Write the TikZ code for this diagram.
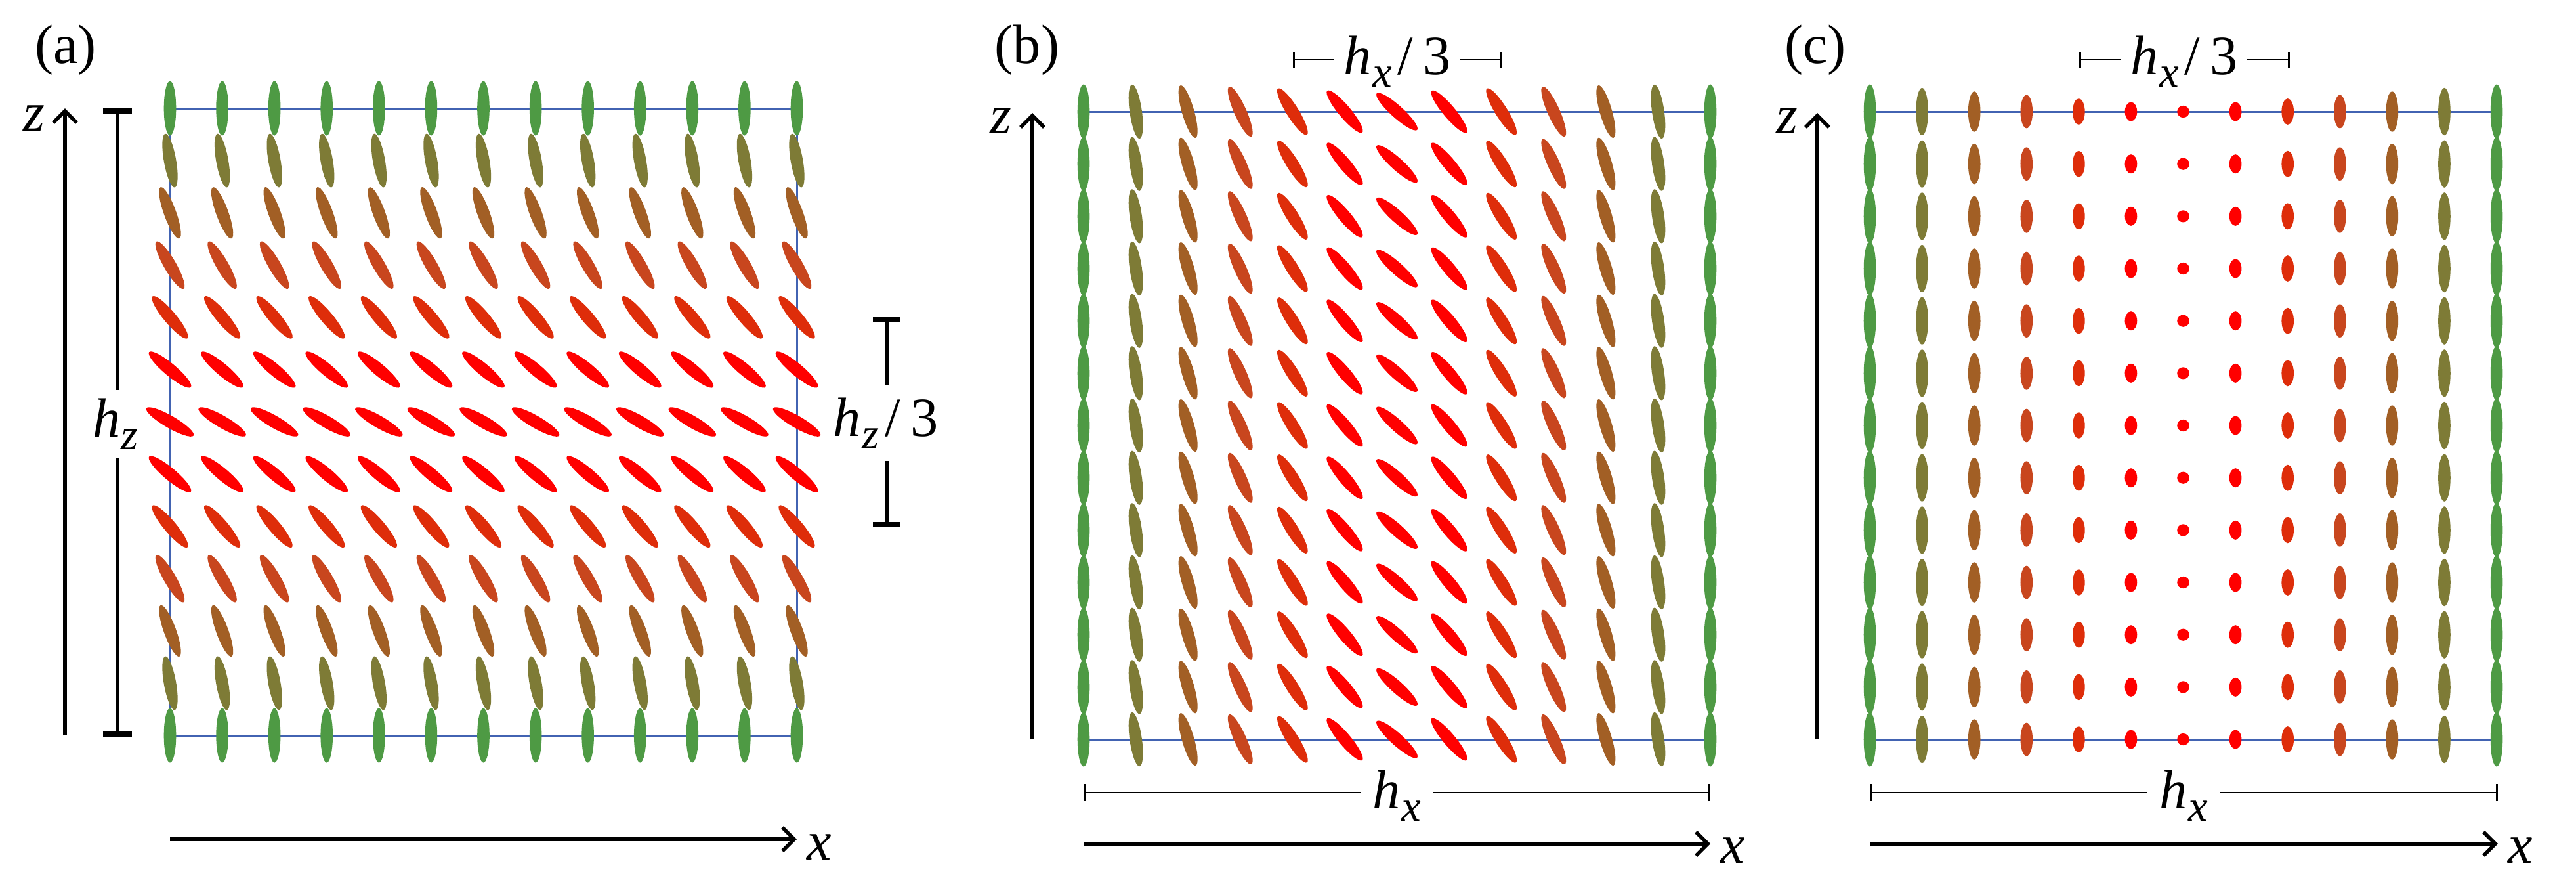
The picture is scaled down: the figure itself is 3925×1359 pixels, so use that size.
\documentclass[tikz,border=0pt]{standalone}
\usepackage{fontspec}
\setmainfont{Liberation Serif}
\usetikzlibrary{arrows.meta}
\definecolor{col0}{RGB}{78,154,68}
\definecolor{col1}{RGB}{126,123,54}
\definecolor{col2}{RGB}{162,95,37}
\definecolor{col3}{RGB}{200,70,30}
\definecolor{col4}{RGB}{222,45,10}
\definecolor{col5}{RGB}{255,0,0}
\definecolor{col6}{RGB}{255,0,0}
\definecolor{frameblue}{RGB}{66,99,178}
\newcommand{\hlab}[1]{\textit{h}\kern0.5pt\raisebox{-5.5pt}{\fontsize{19}{20}\selectfont\textit{#1}}}
\newcommand{\hthird}[1]{\hlab{#1}\hspace{2.5pt}/\hspace{4.5pt}3}
\begin{document}
\begin{tikzpicture}[x=0.01cm,y=-0.01cm,
  axis/.style={line width=0.055cm,-{Straight Barb[length=0.18cm,width=0.36cm]}},
  bar/.style={line width=0.065cm},
  barcap/.style={line width=0.085cm},
  frame/.style={draw=frameblue,line width=0.03cm},
  dimline/.style={line width=0.025cm},
  dimtick/.style={line width=0.03cm},
  lab/.style={font=\fontsize{24}{28}\selectfont, inner sep=0pt},
]
\useasboundingbox (0,0) rectangle (3925,1359);

% ---------- frames ----------
\draw[frame] (259,165) rectangle (1214,1120);
\draw[frame] (1651,170) rectangle (2606,1126);
\draw[frame] (2849,170) rectangle (3804,1126);

% ---------- panel (a) ----------
\foreach \i in {0,...,12}{
  \foreach \j in {0,...,12}{
    \pgfmathtruncatemacro\k{6-abs(\j-6)}
    \pgfmathsetmacro\xx{259+79.583*\i}
    \pgfmathsetmacro\yy{165+79.583*\j}
    \pgfmathsetmacro\ang{10*\k}
    \fill[col\k, rotate around={\ang:(\xx,\yy)}] (\xx,\yy) ellipse [x radius=0.093cm, y radius=0.415cm];
  }
}
% ---------- panel (b) ----------
\foreach \i in {0,...,12}{
  \foreach \j in {0,...,12}{
    \pgfmathtruncatemacro\k{6-abs(\i-6)}
    \pgfmathsetmacro\xx{1651+79.583*\i}
    \pgfmathsetmacro\yy{170+79.667*\j}
    \pgfmathsetmacro\ang{8*\k}
    \fill[col\k, rotate around={\ang:(\xx,\yy)}] (\xx,\yy) ellipse [x radius=0.093cm, y radius=0.415cm];
  }
}
% ---------- panel (c) ----------
\foreach \i in {0,...,12}{
  \foreach \j in {0,...,12}{
    \pgfmathtruncatemacro\k{6-abs(\i-6)}
    \pgfmathsetmacro\xx{2849+79.583*\i}
    \pgfmathsetmacro\yy{170+79.667*\j}
    \pgfmathsetmacro\ry{0.415-0.054*\k}
    \fill[col\k] (\xx,\yy) ellipse [x radius=0.093cm, y radius=\ry cm];
  }
}

% ---------- panel labels ----------
\node[lab] (pa) at (100,76) {(a)};
\node[lab] (pb) at (1565,76) {(b)};
\node[lab] (pc) at (2766,76) {(c)};

% ---------- axes ----------
\coordinate (za0) at (99,1120);  \coordinate (za1) at (99,165);
\coordinate (xa0) at (259,1278); \coordinate (xa1) at (1214,1278);
\coordinate (zb0) at (1573,1126); \coordinate (zb1) at (1573,172);
\coordinate (xb0) at (1651,1285); \coordinate (xb1) at (2606,1285);
\coordinate (zc0) at (2769,1126); \coordinate (zc1) at (2769,172);
\coordinate (xc0) at (2849,1285); \coordinate (xc1) at (3806,1285);
\draw[axis] (za0) -- (za1);
\draw[axis] (xa0) -- (xa1);
\draw[axis] (zb0) -- (zb1);
\draw[axis] (xb0) -- (xb1);
\draw[axis] (zc0) -- (zc1);
\draw[axis] (xc0) -- (xc1);
\node[lab] (zla) at (52,180) {\textit{z}};
\node[lab] (xla) at (1248,1290) {\textit{x}};
\node[lab] (zlb) at (1525,184) {\textit{z}};
\node[lab] (xlb) at (2640,1295) {\textit{x}};
\node[lab] (zlc) at (2723,184) {\textit{z}};
\node[lab] (xlc) at (3840,1295) {\textit{x}};

% ---------- h_z bar (a) ----------
\coordinate (hzT) at (179,169);
\coordinate (hzB) at (179,1118);
\node[lab, anchor=base, inner sep=0.12cm] (hz) at (176,665) {\hlab{z}};
\draw[bar] (hzT) -- (hzT |- hz.north);
\draw[bar] (hzB |- hz.south) -- (hzB);
\draw[barcap] ([xshift=-0.22cm]hzT) -- ([xshift=0.22cm]hzT);
\draw[barcap] ([xshift=-0.22cm]hzB) -- ([xshift=0.22cm]hzB);

% ---------- h_z/3 bar (a) ----------
\coordinate (hzsT) at (1351,487);
\coordinate (hzsB) at (1351,799);
\node[lab, anchor=base, inner sep=0.18cm] (hzs) at (1350,664) {\hthird{z}};
\draw[bar] (hzsT) -- (hzsT |- hzs.north);
\draw[bar] (hzsB |- hzs.south) -- (hzsB);
\draw[barcap] ([xshift=-0.21cm]hzsT) -- ([xshift=0.21cm]hzsT);
\draw[barcap] ([xshift=-0.21cm]hzsB) -- ([xshift=0.21cm]hzsB);

% ---------- h_x/3 (b) ----------
\coordinate (hxsbL) at (1971,91);
\coordinate (hxsbR) at (2286,91);
\node[lab, anchor=base, inner sep=0.13cm] (hxsb) at (2129,113) {\hthird{x}};
\draw[dimline] (hxsbL) -- (hxsbL -| hxsb.west);
\draw[dimline] (hxsbR -| hxsb.east) -- (hxsbR);
\draw[dimtick] ([yshift=-0.12cm]hxsbL) -- ([yshift=0.12cm]hxsbL);
\draw[dimtick] ([yshift=-0.12cm]hxsbR) -- ([yshift=0.12cm]hxsbR);

% ---------- h_x/3 (c) ----------
\coordinate (hxscL) at (3169,91);
\coordinate (hxscR) at (3487,91);
\node[lab, anchor=base, inner sep=0.13cm] (hxsc) at (3328,113) {\hthird{x}};
\draw[dimline] (hxscL) -- (hxscL -| hxsc.west);
\draw[dimline] (hxscR -| hxsc.east) -- (hxscR);
\draw[dimtick] ([yshift=-0.12cm]hxscL) -- ([yshift=0.12cm]hxscL);
\draw[dimtick] ([yshift=-0.12cm]hxscR) -- ([yshift=0.12cm]hxscR);

% ---------- h_x (b) ----------
\coordinate (hxbL) at (1652,1207);
\coordinate (hxbR) at (2604,1207);
\node[lab, anchor=base, inner sep=0.18cm] (hxb) at (2128,1231) {\hlab{x}};
\draw[dimline] (hxbL) -- (hxbL -| hxb.west);
\draw[dimline] (hxbR -| hxb.east) -- (hxbR);
\draw[dimtick] ([yshift=-0.13cm]hxbL) -- ([yshift=0.13cm]hxbL);
\draw[dimtick] ([yshift=-0.13cm]hxbR) -- ([yshift=0.13cm]hxbR);

% ---------- h_x (c) ----------
\coordinate (hxcL) at (2850,1207);
\coordinate (hxcR) at (3804,1207);
\node[lab, anchor=base, inner sep=0.18cm] (hxc) at (3327,1231) {\hlab{x}};
\draw[dimline] (hxcL) -- (hxcL -| hxc.west);
\draw[dimline] (hxcR -| hxc.east) -- (hxcR);
\draw[dimtick] ([yshift=-0.13cm]hxcL) -- ([yshift=0.13cm]hxcL);
\draw[dimtick] ([yshift=-0.13cm]hxcR) -- ([yshift=0.13cm]hxcR);
\end{tikzpicture}
\end{document}
